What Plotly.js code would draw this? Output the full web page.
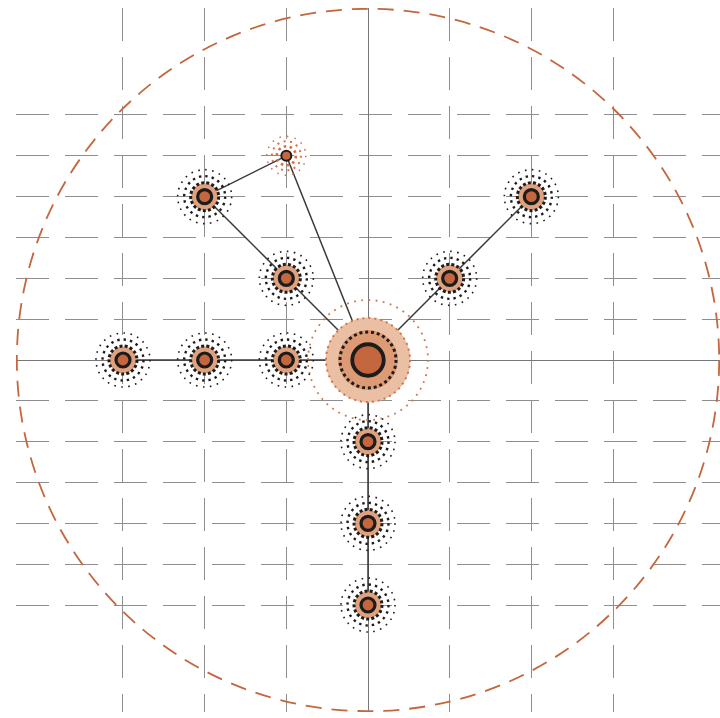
<!DOCTYPE html>
<html>
<head>
<meta charset="utf-8">
<script src="https://cdn.plot.ly/plotly-3.0.1.min.js"></script>
<style>html,body{margin:0;padding:0;background:#fff;}#chart{width:720px;height:718px;}</style>
</head>
<body>
<div id="chart"></div>
<script>
// ---- data ----
const NODE_X = [0, -1, -2, -3, -1, -2, -1, 1, 2, 0, 0, 0];
const NODE_Y = [0, 0, 0, 0, 1, 2, 2.5, 1, 2, -1, -2, -3];
const NODE_KIND = ['root', 'node', 'node', 'node', 'node', 'node', 'leaf', 'node', 'node', 'node', 'node', 'node'];
const EDGE_FROM = [0, 1, 2, 0, 4, 5, 6, 0, 7, 0, 9, 10];
const EDGE_TO   = [1, 2, 3, 4, 5, 6, 0, 7, 8, 9, 10, 11];
const X_TICKS = [-3, -2, -1, 0, 1, 2, 3];
const Y_TICKS = [-3, -2.5, -2, -1.5, -1, -0.5, 0, 0.5, 1, 1.5, 2, 2.5, 3];
const BOUNDARY_R = 4.3;
const AXIS_RANGE = [-4.31, 4.31];

// ---- styles ----
const ORANGE = '#c4663e';
const DARK = '#1c1c1c';
const STYLE = {
  root: {halo: [{size: 85, color: '#ebbfa3'}, {size: 60, color: '#dd9b75'}],
         core: {size: 31.5, line: 3.8, color: ORANGE, lineColor: DARK},
         rings: [{r: 28, w: 3, n: 30, c: DARK}, {r: 42, w: 2, n: 44, c: '#d0744a'}, {r: 60, w: 1.8, n: 52, c: '#d0744a'}]},
  node: {halo: [{size: 27, color: '#e0a27e'}],
         core: {size: 14, line: 3.2, color: ORANGE, lineColor: DARK},
         rings: [{r: 14, w: 3, n: 17, c: DARK}, {r: 20.5, w: 2.4, n: 20, c: DARK}, {r: 27, w: 1.6, n: 24, c: DARK}]},
  leaf: {halo: [],
         core: {size: 10, line: 2, color: ORANGE, lineColor: DARK},
         rings: [{r: 9.5, w: 2.6, n: 10, c: '#d0744a'}, {r: 14.5, w: 2, n: 14, c: '#d0744a'}, {r: 19.5, w: 1.5, n: 16, c: '#d0744a'}]}
};

// ---- edges ----
const ex = [], ey = [];
for (let i = 0; i < EDGE_FROM.length; i++) {
  ex.push(NODE_X[EDGE_FROM[i]], NODE_X[EDGE_TO[i]], null);
  ey.push(NODE_Y[EDGE_FROM[i]], NODE_Y[EDGE_TO[i]], null);
}
const traces = [{
  type: 'scatter', mode: 'lines', x: ex, y: ey,
  line: {color: '#3a3a3a', width: 1.5}, hoverinfo: 'skip', showlegend: false
}];

// halos (layered, largest first)
for (let layer = 0; layer < 2; layer++) {
  const hx = [], hy = [], hs = [], hc = [];
  NODE_X.forEach((x, i) => {
    const h = STYLE[NODE_KIND[i]].halo[layer];
    if (h) { hx.push(x); hy.push(NODE_Y[i]); hs.push(h.size); hc.push(h.color); }
  });
  if (hx.length) traces.push({type: 'scatter', mode: 'markers', x: hx, y: hy,
    marker: {size: hs, color: hc, opacity: 1, line: {width: 0}}, hoverinfo: 'skip', showlegend: false});
}
// cores, one trace per kind
Object.keys(STYLE).forEach(kind => {
  const cx = [], cy = [];
  NODE_X.forEach((x, i) => { if (NODE_KIND[i] === kind) { cx.push(x); cy.push(NODE_Y[i]); } });
  const c = STYLE[kind].core;
  traces.push({
    type: 'scatter', mode: 'markers', x: cx, y: cy,
    marker: {size: c.size, color: c.color, opacity: 1, line: {width: c.line, color: c.lineColor}},
    hoverinfo: 'skip', showlegend: false
  });
});

// ---- shapes ----
const shapes = [{
  type: 'circle', xref: 'x', yref: 'y', layer: 'between',
  x0: -BOUNDARY_R, x1: BOUNDARY_R, y0: -BOUNDARY_R, y1: BOUNDARY_R,
  line: {color: ORANGE, width: 1.8, dash: '16px,10px'}, fillcolor: 'rgba(0,0,0,0)'
}];
NODE_X.forEach((x, i) => {
  STYLE[NODE_KIND[i]].rings.forEach(rg => {
    const period = 2 * Math.PI * rg.r / rg.n;
    shapes.push({
      type: 'circle', xref: 'x', yref: 'y', layer: 'above',
      xsizemode: 'pixel', ysizemode: 'pixel', xanchor: x, yanchor: NODE_Y[i],
      x0: -rg.r, x1: rg.r, y0: -rg.r, y1: rg.r,
      line: {color: rg.c, width: rg.w, dash: rg.w.toFixed(2) + 'px,' + (period - rg.w).toFixed(2) + 'px'},
      fillcolor: 'rgba(0,0,0,0)'
    });
  });
});

const axisCommon = {
  range: AXIS_RANGE, showticklabels: false, ticks: '', showline: false,
  showgrid: true, gridcolor: '#8e8e8e', gridwidth: 1, griddash: '33px,16px',
  zeroline: true, zerolinecolor: '#777777', zerolinewidth: 1, fixedrange: true
};
const layout = {
  width: 720, height: 718,
  margin: {l: 16, r: 0, t: 8, b: 6},
  paper_bgcolor: '#ffffff', plot_bgcolor: '#ffffff',
  xaxis: Object.assign({}, axisCommon, {tickmode: 'array', tickvals: X_TICKS}),
  yaxis: Object.assign({}, axisCommon, {tickmode: 'array', tickvals: Y_TICKS}),
  shapes: shapes, showlegend: false, hovermode: false
};
Plotly.newPlot('chart', traces, layout, {displayModeBar: false, staticPlot: true});
</script>
</body>
</html>
